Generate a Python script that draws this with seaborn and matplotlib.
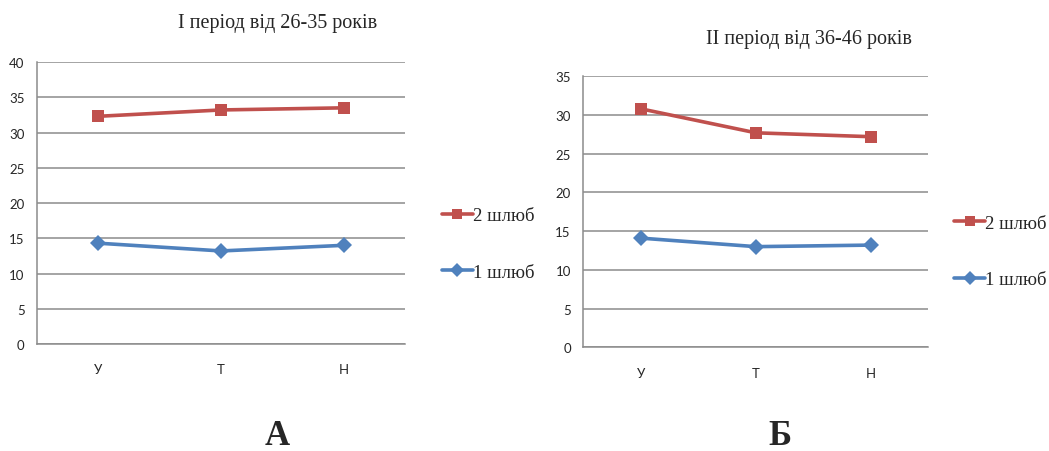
import numpy as np
import pandas as pd
import matplotlib
matplotlib.use("Agg")
from matplotlib import pyplot as plt
from matplotlib.lines import Line2D
import seaborn as sb

# data
categories = ["У", "Т", "Н"]
p1_marr2 = [32.3, 33.2, 33.5]
p1_marr1 = [14.3, 13.2, 14.0]
p2_marr2 = [30.8, 27.7, 27.2]
p2_marr1 = [14.1, 13.0, 13.2]
titles = ["І період від 26-35 років", "ІІ період від 36-46 років"]
panel_letters = ["А", "Б"]
series_names = ["2 шлюб", "1 шлюб"]

RED = "#C0504D"
BLUE = "#4F81BD"
GRID = "#8C8C8C"

sb.set_style("white")
plt.rcParams['font.family'] = ['DejaVu Sans']


def long_frame(s2, s1):
    return pd.DataFrame({
        "cat": categories * 2,
        "val": list(s2) + list(s1),
        "series": [series_names[0]] * 3 + [series_names[1]] * 3,
    })


def draw_panel(ax, df, ymax, leg_anchor):
    sb.lineplot(data=df, x="cat", y="val", hue="series", style="series",
                palette={series_names[0]: RED, series_names[1]: BLUE},
                markers={series_names[0]: "s", series_names[1]: "D"},
                dashes=False, linewidth=2.6, markersize=8, markeredgewidth=0,
                legend=False, sort=False, ax=ax)
    ax.set_xlim(-0.5, 2.5)
    ax.set_ylim(0, ymax)
    ax.set_yticks(np.arange(0, ymax + 1, 5))
    ax.yaxis.grid(True, color=GRID, linewidth=1.1)
    ax.set_axisbelow(True)
    ax.set_xlabel("")
    ax.set_ylabel("")
    for s in ["top", "right"]:
        ax.spines[s].set_visible(False)
    for s in ["left", "bottom"]:
        ax.spines[s].set_color(GRID)
        ax.spines[s].set_linewidth(1.1)
    # ticks between categories, labels at centres
    ax.set_xticks([-0.5, 0.5, 1.5, 2.5])
    ax.set_xticklabels([])
    ax.set_xticks([0, 1, 2], minor=True)
    ax.set_xticklabels(categories, minor=True, fontsize=9.5, family="Lato")
    ax.tick_params(axis="x", which="major", length=6, color=GRID, direction="out")
    ax.tick_params(axis="x", which="minor", length=0, pad=14)
    ax.tick_params(axis="y", length=5, color=GRID, direction="out", labelsize=9.5, pad=4)
    for lb in ax.get_yticklabels():
        lb.set_family("Lato")
    # legend to the right
    handles = [Line2D([], [], color=RED, marker="s", lw=2.6, ms=7, mew=0),
               Line2D([], [], color=BLUE, marker="D", lw=2.6, ms=7, mew=0)]
    fig.legend(handles, series_names, loc="center left", bbox_to_anchor=leg_anchor,
               bbox_transform=fig.transFigure, frameon=False,
               prop={"family": "Liberation Serif", "size": 13.5},
               labelspacing=2.1, handlelength=1.65, handletextpad=0.02,
               borderpad=0, borderaxespad=0)


fig = plt.figure(figsize=(10.49, 4.52), dpi=100)
ax1 = fig.add_axes([0.0353, 0.2367, 0.3510, 0.6239])
ax2 = fig.add_axes([0.5561, 0.2294, 0.3289, 0.5996])

draw_panel(ax1, long_frame(p1_marr2, p1_marr1), 40, (0.4213, 0.458))
draw_panel(ax2, long_frame(p2_marr2, p2_marr1), 35, (0.9095, 0.4414))

fig.text(0.265, 0.948, titles[0], ha="center", va="center",
         family="Liberation Serif", fontsize=14.5)
fig.text(0.771, 0.912, titles[1], ha="center", va="center",
         family="Liberation Serif", fontsize=14.5)
fig.text(0.264, 0.016, panel_letters[0], ha="center", va="baseline",
         family="Liberation Serif", fontsize=25, fontweight="bold")
fig.text(0.743, 0.016, panel_letters[1], ha="center", va="baseline",
         family="Liberation Serif", fontsize=25, fontweight="bold")

fig.savefig("out.png", dpi=100, facecolor="white")
